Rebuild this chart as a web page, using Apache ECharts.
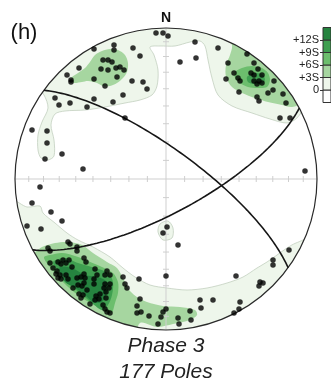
<!DOCTYPE html>
<html>
<head>
<meta charset="utf-8">
<script src="https://cdn.jsdelivr.net/npm/echarts@6/dist/echarts.min.js"></script>
<style>
html, body { margin: 0; padding: 0; background: #fff; }
#chart { width: 331px; height: 384px; }
</style>
</head>
<body>
<div id="chart"></div>
<script>
// net units: x = east, y = north, primitive circle radius R
var R = 151;

// poles to bedding (lower hemisphere, equal area)
var poles = [
    [-10, 146], [-3, 146], [2, 143], [29, 137], [14, 117], [30, 121],
    [-52, 134], [-52, 129], [-72, 130], [-33, 131], [-26, 123], [-63, 119], [-58, 119], [-54, 117],
    [-46, 112], [-42, 109], [-65, 110], [-58, 109], [-50, 111], [-87, 111], [-99, 104], [-95, 99],
    [-95, 97], [-72, 100], [-49, 102], [-61, 93], [-34, 98], [-23, 97], [-19, 90], [-43, 84],
    [-53, 77], [-72, 80], [-79, 72], [-107, 74], [-96, 76], [-111, 81], [-41, 61],
    [-134, 49], [-119, 48], [-119, 36], [-104, 25], [-121, 20], [-83, 10], [-126, -8], [139, 8],
    [52, 131], [81, 125], [62, 116], [88, 116], [92, 110], [68, 106], [85, 106], [88, 104],
    [96, 104], [60, 100], [72, 101], [74, 98], [88, 98], [93, 98], [91, 95], [96, 96], [108, 98],
    [73, 87], [102, 86], [107, 89], [91, 82], [93, 78], [117, 85], [120, 76], [114, 61], [124, 61],
    [-134, -24], [-115, -33], [-104, -42], [-139, -47], [-125, -50],
    [1, -48], [-3, -54], [12, -66], [0, -97], [-27, -100], [-43, -98], [-41, -105], [-39, -109],
    [123, -71], [107, -81], [107, -86], [70, -97], [94, -103], [97, -104], [93, -107],
    [-26, -120], [34, -121], [47, -121], [35, -129], [74, -123], [73, -130], [68, -134],
    [-29, -127], [-29, -134], [-25, -133], [-17, -137], [0, -130], [-3, -133], [-5, -138],
    [-8, -145], [12, -139], [13, -145], [24, -132], [25, -141],
    [-98, -63], [-96, -65], [-118, -69], [-116, -72], [-89, -68], [-89, -72], [-103, -81], [-97, -81],
    [-82, -79], [-80, -83], [-116, -84], [-108, -83], [-105, -85], [-100, -84], [-94, -88], [-113, -89],
    [-109, -92], [-110, -95], [-106, -96], [-108, -99], [-105, -100], [-100, -96], [-98, -100], [-89, -99],
    [-85, -98], [-82, -95], [-81, -99], [-71, -90], [-69, -96], [-72, -100], [-72, -105], [-59, -92],
    [-61, -96], [-56, -96], [-93, -109], [-88, -106], [-84, -107], [-82, -104], [-79, -111], [-61, -105],
    [-56, -105], [-62, -109], [-57, -109], [-87, -115], [-83, -116], [-85, -119], [-66, -115], [-70, -117],
    [-67, -120], [-71, -121], [-60, -113], [-60, -119], [-76, -125], [-63, -126], [-61, -130], [-59, -133],
    [-56, -134]
];

// great circles: dip direction / dip (degrees)
var planeDipDirs = [36, 152];
var planeDips = [74, 71.5];

// tick marks along the N-S and E-W diameters (plunge, degrees)
var tickPlunges = [10, 20, 30, 40, 50, 60, 70, 80];

// density scale (multiples of S)
var legendSteps = [-3, 0, 3, 6, 9, 12, 15];
var legendTicks = [0, 3, 6, 9, 12];
var levelColors = ['#ffffff', '#eef6eb', '#a6d6a0', '#6cbe6d', '#3f9f50', '#25833f'];

// contour polygons per level (net units)
var contourLevel1 = [
    [[-131, 94], [-122, 84], [-118, 71], [-124, 57], [-128, 44], [-128, 29], [-125, 21], [-118, 19],
     [-112, 23], [-112, 39], [-115, 54], [-111, 65], [-101, 68], [-81, 69], [-61, 72], [-41, 76],
     [-26, 79], [-14, 84], [-9, 93], [-8, 109], [-12, 124], [-16, 132], [-6, 133], [9, 133],
     [24, 137], [34, 138], [39, 133], [42, 119], [46, 101], [52, 84], [66, 73], [86, 66],
     [104, 60], [121, 56], [131, 61], [139, 74], [154, 119], [0, 169], [-156, 119]],
    [[-156, -21], [-139, -28], [-126, -27], [-123, -34], [-111, -44], [-99, -54], [-88, -61], [-73, -68],
     [-56, -78], [-43, -89], [-31, -98], [-16, -106], [1, -109], [21, -111], [41, -109], [61, -104],
     [77, -98], [91, -89], [101, -83], [111, -76], [121, -69], [130, -64], [144, -61], [154, -161],
     [-156, -161]],
    [[-6, -45], [2, -42], [7, -49], [6, -59], [-3, -61], [-8, -53]]
];
var contourLevel2 = [
    [[-71, 124], [-64, 128], [-56, 130], [-48, 129], [-41, 124], [-38, 116], [-39, 107], [-43, 101],
     [-49, 96], [-56, 93], [-63, 93], [-69, 96], [-78, 98], [-84, 97], [-91, 96], [-96, 97],
     [-94, 102], [-88, 106], [-81, 111], [-76, 117]],
    [[59, 144], [66, 134], [64, 124], [60, 114], [60, 102], [66, 92], [76, 86], [89, 81],
     [102, 77], [116, 74], [126, 72], [139, 79], [94, 154]],
    [[-131, -73], [-124, -68], [-111, -64], [-98, -63], [-84, -66], [-73, -74], [-59, -83], [-49, -89],
     [-43, -99], [-39, -107], [-36, -112], [-29, -118], [-19, -123], [-3, -127], [14, -128], [29, -131],
     [31, -136], [24, -141], [7, -145], [-9, -148], [-26, -144], [-36, -166], [-156, -81]]
];
var contourLevel3 = [
    [[69, 107], [76, 111], [86, 113], [96, 111], [102, 106], [104, 99], [101, 92], [92, 91],
     [82, 92], [74, 96], [69, 101]],
    [[-122, -78], [-116, -76], [-104, -74], [-91, -77], [-78, -82], [-64, -88], [-53, -94], [-48, -103],
     [-48, -114], [-51, -124], [-54, -134], [-57, -134], [-68, -128], [-84, -119], [-99, -107], [-112, -93],
     [-120, -83]]
];
var contourLevel4 = [
    [[81, 102], [89, 106], [97, 104], [99, 99], [96, 95], [87, 95], [82, 97]],
    [[-113, -83], [-101, -79], [-88, -84], [-71, -89], [-58, -94], [-53, -103], [-54, -116], [-58, -126],
     [-64, -131], [-74, -124], [-86, -114], [-98, -104], [-108, -92]]
];
var contourLevel5 = [
    [[-106, -88], [-94, -89], [-81, -96], [-68, -98], [-59, -103], [-59, -113], [-64, -123], [-73, -123],
     [-81, -116], [-91, -109], [-101, -103], [-106, -94]]
];

var D2R = Math.PI / 180;
var FONT = "'Liberation Sans', Arial, sans-serif";

// Schmidt (equal area) lower hemisphere
function project(trend, plunge) {
    var r = R * Math.SQRT2 * Math.sin((90 - plunge) * D2R / 2);
    return [r * Math.sin(trend * D2R), r * Math.cos(trend * D2R)];
}

function greatCircle(dipDir, dip) {
    var s = (dipDir - 90) * D2R, d = dipDir * D2R, a = dip * D2R;
    var pts = [];
    for (var t = 0; t <= 180; t += 2) {
        var c = Math.cos(t * D2R), n = Math.sin(t * D2R);
        var e = c * Math.sin(s) + n * Math.sin(d) * Math.cos(a);
        var no = c * Math.cos(s) + n * Math.cos(d) * Math.cos(a);
        var dn = n * Math.sin(a);
        var plunge = Math.asin(Math.min(1, dn)) / D2R;
        var trend = Math.atan2(e, no) / D2R;
        pts.push(project(trend, plunge));
    }
    return pts;
}

var shapes = [];
[contourLevel1, contourLevel2, contourLevel3, contourLevel4, contourLevel5].forEach(function (polys, i) {
    polys.forEach(function (p) { shapes.push({ level: i + 1, pts: p }); });
});

var legendBands = [];
for (var i = 0; i < legendSteps.length - 1; i++) {
    legendBands.push([legendSteps[i], legendSteps[i + 1]]);
}

var circleSeries = planeDipDirs.map(function (dd, i) {
    return {
        type: 'line',
        data: greatCircle(dd, planeDips[i]),
        showSymbol: false,
        symbol: 'none',
        silent: true,
        z: 4,
        lineStyle: { color: '#161616', width: 1.6 }
    };
});

var chart = echarts.init(document.getElementById('chart'));

var option = {
    animation: false,
    grid: [
        { left: 15, top: 28, width: 302, height: 302 },
        { left: 323, top: 27.5, width: 10, height: 75 }
    ],
    xAxis: [
        { type: 'value', min: -R, max: R, show: false, gridIndex: 0 },
        { type: 'value', min: 0, max: 1, show: false, gridIndex: 1 }
    ],
    yAxis: [
        { type: 'value', min: -R, max: R, show: false, gridIndex: 0 },
        {
            type: 'value', gridIndex: 1, min: -3, max: 15, interval: 3,
            axisLine: { show: false },
            splitLine: { show: false },
            axisTick: { show: true, length: 3, customValues: legendTicks, lineStyle: { color: '#333', width: 1 } },
            axisLabel: {
                customValues: legendTicks,
                margin: 4,
                fontSize: 11,
                fontFamily: FONT,
                color: '#222',
                formatter: function (v) {
                    if (v === 0) return '0';
                    return (v > 0 && v < 15) ? '+' + v + 'S' : '';
                }
            }
        }
    ],
    graphic: [
        { type: 'text', x: 166, y: 18, style: { text: 'N', font: 'bold 14px ' + FONT, fill: '#111', align: 'center', verticalAlign: 'middle' } },
        { type: 'text', x: 24, y: 33, style: { text: '(h)', font: '22px ' + FONT, fill: '#111', align: 'center', verticalAlign: 'middle' } },
        { type: 'text', x: 166, y: 346, style: { text: 'Phase 3', font: 'italic 21px ' + FONT, fill: '#222', align: 'center', verticalAlign: 'middle' } },
        { type: 'text', x: 166, y: 372, style: { text: '177 Poles', font: 'italic 21px ' + FONT, fill: '#222', align: 'center', verticalAlign: 'middle' } }
    ],
    series: [
        {
            // density contours
            type: 'custom',
            xAxisIndex: 0, yAxisIndex: 0,
            silent: true,
            z: 1,
            data: shapes.map(function (s, i) { return [i, 0]; }),
            renderItem: function (params, api) {
                var s = shapes[params.dataIndex];
                var c = api.coord([0, 0]);
                var r = api.coord([R, 0])[0] - c[0];
                return {
                    type: 'polygon',
                    shape: { points: s.pts.map(function (p) { return api.coord(p); }), smooth: 0.3 },
                    style: {
                        fill: levelColors[s.level],
                        stroke: s.level === 1 ? '#bccab8' : null,
                        lineWidth: 0.7
                    },
                    clipPath: { type: 'circle', shape: { cx: c[0], cy: c[1], r: r } }
                };
            }
        },
        {
            // net frame: diameters, ticks, primitive circle
            type: 'custom',
            xAxisIndex: 0, yAxisIndex: 0,
            silent: true,
            z: 2,
            data: [[0, 0]],
            renderItem: function (params, api) {
                var c = api.coord([0, 0]);
                var r = api.coord([R, 0])[0] - c[0];
                var grey = { stroke: '#cfcfcf', lineWidth: 1 };
                var kids = [
                    { type: 'line', shape: { x1: c[0] - r, y1: c[1], x2: c[0] + r, y2: c[1] }, style: grey },
                    { type: 'line', shape: { x1: c[0], y1: c[1] - r, x2: c[0], y2: c[1] + r }, style: grey }
                ];
                tickPlunges.forEach(function (p) {
                    [0, 90, 180, 270].forEach(function (t) {
                        var q = api.coord(project(t, p));
                        if (t % 180 === 0) {
                            kids.push({ type: 'line', shape: { x1: q[0] - 3, y1: q[1], x2: q[0] + 3, y2: q[1] }, style: grey });
                        } else {
                            kids.push({ type: 'line', shape: { x1: q[0], y1: q[1] - 3, x2: q[0], y2: q[1] + 3 }, style: grey });
                        }
                    });
                });
                kids.push({ type: 'circle', shape: { cx: c[0], cy: c[1], r: r }, style: { fill: null, stroke: '#2a2a2a', lineWidth: 1.2 } });
                return { type: 'group', children: kids };
            }
        }
    ].concat(circleSeries).concat([
        {
            type: 'scatter',
            xAxisIndex: 0, yAxisIndex: 0,
            data: poles,
            symbolSize: 5.5,
            silent: true,
            z: 5,
            itemStyle: { color: '#000' }
        },
        {
            // density scale boxes
            type: 'custom',
            xAxisIndex: 1, yAxisIndex: 1,
            silent: true,
            data: legendBands,
            renderItem: function (params, api) {
                var lo = api.value(0), hi = api.value(1);
                var a = api.coord([0, hi]), b = api.coord([1, lo]);
                return {
                    type: 'rect',
                    shape: { x: a[0], y: a[1], width: b[0] - a[0], height: b[1] - a[1] },
                    style: { fill: levelColors[params.dataIndex], stroke: '#333', lineWidth: 1 }
                };
            }
        }
    ])
};

chart.setOption(option);
</script>
</body>
</html>
